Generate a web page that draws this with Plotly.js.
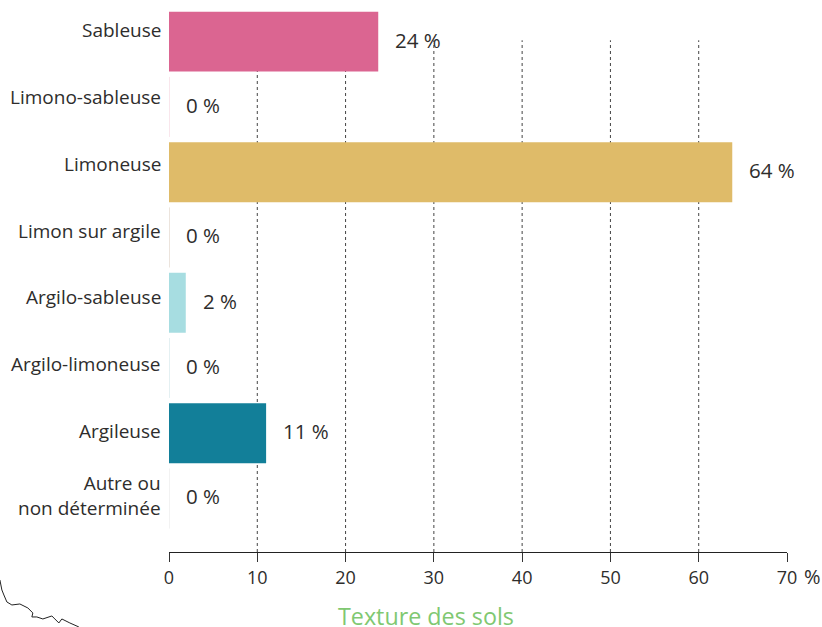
<!DOCTYPE html>
<html><head><meta charset="utf-8">
<script src="https://cdn.plot.ly/plotly-3.0.1.min.js"></script>
<style>html,body{margin:0;padding:0;background:#fff}</style></head>
<body><div id="chart" style="width:822px;height:627px"></div>
<script>
const categories=['Sableuse','Limono-sableuse','Limoneuse','Limon sur argile','Argilo-sableuse','Argilo-limoneuse','Argileuse','Autre ou<br>non déterminée'];
const values=[23.7,0,63.8,0,1.9,0,11,0];
const valueLabels=['24 %','0 %','64 %','0 %','2 %','0 %','11 %','0 %'];
const barColors=['#db6591','#f7dde6','#dfbb69','#e6dcd2','#a7dde1','#dcecee','#127f99','#eeeeee'];
const tickVals=[0,10,20,30,40,50,60,70];
const tickText=['0','10','20','30','40','50','60','70'];
const gridVals=[10,20,30,40,50,60];
const coastX=[0,1,2,4,7,12,20,28,33,32,37,43,52,55,59,62,70,79];
const coastY=[580,585,590,595,602,605,604,608,613,617,617,619,616,619,623,619,623,627];
const textColor='#2e2d2c';
const font='"Open Sans", sans-serif';
const W=822,H=627,L=169.2,R=787.5,T=8.7,B=552;
const yIdx=categories.map((c,i)=>i);
const trace={type:'bar',orientation:'h',y:yIdx,x:values,width:60/65.33,
  marker:{color:barColors,line:{color:barColors,width:values.map(v=>v===0?1:0)}},hoverinfo:'skip'};
const annotations=[];
categories.forEach((c,i)=>{
  annotations.push({xref:'paper',yref:'y',x:0,y:i,xanchor:'right',yanchor:'middle',align:'right',xshift:-6.5,yshift:i===7?3:12-1.7*i,
    text:c,showarrow:false,font:{family:font,size:19,color:textColor}});
  annotations.push({xref:'x',yref:'y',x:values[i],y:i,xanchor:'left',yanchor:'middle',xshift:15,yshift:2,
    text:valueLabels[i],showarrow:false,font:{family:font,size:20.5,color:textColor}});
});
annotations.push({xref:'x',yref:'paper',x:70,y:(B-577)/(B-T),xanchor:'left',yanchor:'middle',xshift:15,
  text:'%',showarrow:false,font:{family:font,size:20,color:textColor}});
annotations.push({xref:'paper',yref:'paper',x:(426-L)/(R-L),y:(B-616)/(B-T),xanchor:'center',yanchor:'middle',
  text:'Texture des sols',showarrow:false,font:{family:font,size:23.3,color:'#80c871'}});
const shapes=gridVals.map(v=>({type:'line',layer:'below',xref:'x',yref:'paper',x0:v,x1:v,y0:0,y1:(B-40)/(B-T),
  line:{color:'#444',width:1,dash:'3px,3px'}}));
const coastPath=coastX.map((x,i)=>(i?'L':'M')+((x-L)/(R-L))+','+((B-coastY[i])/(B-T))).join(' ');
shapes.push({type:'path',xref:'paper',yref:'paper',path:coastPath,line:{color:'#222',width:1}});
Plotly.newPlot('chart',[trace],{
  width:W,height:H,margin:{l:L,r:W-R,t:T,b:H-B},paper_bgcolor:'#fff',plot_bgcolor:'rgba(0,0,0,0)',
  showlegend:false,bargap:0,
  xaxis:{range:[0,70],tickvals:tickVals,ticktext:tickText,ticks:'outside',ticklen:9,tickwidth:1,tickcolor:'#333',
    showline:true,linecolor:'#222',linewidth:1.2,showgrid:false,zeroline:false,
    tickfont:{family:font,size:18,color:textColor},fixedrange:true},
  yaxis:{range:[7.82,-0.5],showticklabels:false,showgrid:false,zeroline:false,ticks:'',showline:false,fixedrange:true},
  annotations,shapes
},{displayModeBar:false,staticPlot:true});
</script></body></html>
